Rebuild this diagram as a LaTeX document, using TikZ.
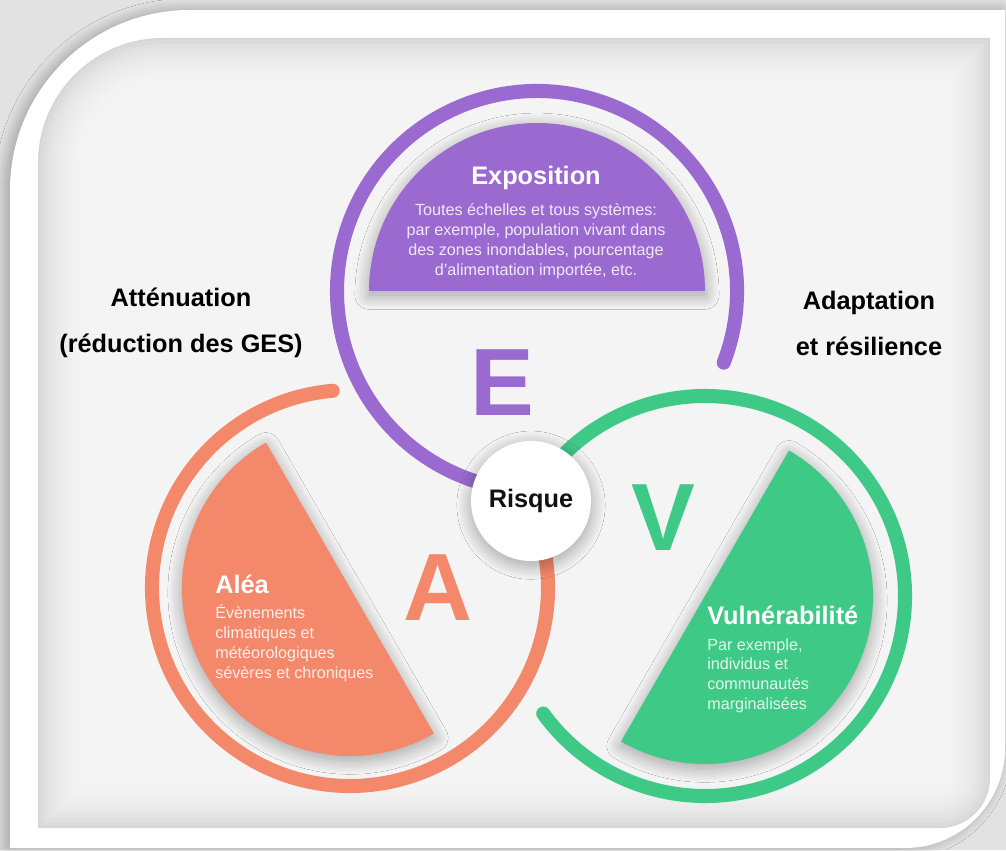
\documentclass[tikz,border=0pt]{standalone}
\usepackage{fontspec}
\setmainfont{Liberation Sans}
\usetikzlibrary{shadows.blur}
\definecolor{expo}{RGB}{154,106,208}
\definecolor{alea}{RGB}{243,137,106}
\definecolor{vuln}{RGB}{63,201,134}
\definecolor{fond}{RGB}{226,226,226}
\definecolor{panneau}{RGB}{214,214,214}

\begin{document}
\begin{tikzpicture}[x=0.025cm,y=0.025cm,
  anneau/.style={line width=10pt,line cap=round},
  titre/.style={font=\fontsize{18}{22}\selectfont\bfseries,inner sep=0pt},
  corps/.style={font=\fontsize{11.5}{14.2}\selectfont,text=white,text opacity=0.85,inner sep=0pt},
  lettre/.style={font=\fontsize{68}{68}\selectfont\bfseries},
  ombre/.style={blur shadow={shadow xshift=0pt,shadow yshift=-3pt,shadow blur radius=10pt,shadow blur steps=25,shadow opacity=35}}]
\useasboundingbox (0,0) rectangle (1006,850);
\fill[fond] (0,0) rectangle (1006,850);
\fill[white,blur shadow={shadow xshift=-3pt,shadow yshift=0pt,shadow blur radius=8pt,shadow blur steps=20,shadow opacity=30}] (10,2) -- (10,660) arc[start angle=180,end angle=90,radius=180] -- (1005,840) -- (1005,102) arc[start angle=0,end angle=-90,radius=100] -- cycle;
\fill[panneau] (38,22) -- (38,687) arc[start angle=180,end angle=90,radius=125] -- (990,812) -- (990,72) arc[start angle=0,end angle=-90,radius=50] -- cycle;
\foreach \d in {2,6,...,42} {
  \pgfmathsetmacro\ra{125-\d}
  \pgfmathsetmacro\rb{max(50-\d,4)}
  \fill[white,fill opacity=0.14] (38+\d,22+\d) -- (38+\d,812-\d-\ra) arc[start angle=180,end angle=90,radius=\ra] -- (990-\d,812-\d) -- (990-\d,22+\d+\rb) arc[start angle=0,end angle=-90,radius=\rb] -- cycle;
}

\coordinate (cE) at (537,559);
\coordinate (cA) at (350,262);
\coordinate (cV) at (705,254);

\draw[anneau,expo] (cE) ++(-21:200) arc[start angle=-21,end angle=255,radius=200];
\draw[anneau,alea] (cA) ++(95:198) arc[start angle=95,end angle=380,radius=198];
\draw[anneau,vuln] (cV) ++(216:200) arc[start angle=216,end angle=500,radius=200];

\fill[expo,ombre] (cE) ++(0:168) arc[start angle=0,end angle=180,radius=168] -- cycle;
\fill[alea,ombre] (cA) ++(120:168) arc[start angle=120,end angle=300,radius=168] -- cycle;
\fill[vuln,ombre] (cV) ++(-120:168) arc[start angle=-120,end angle=60,radius=168] -- cycle;

\node[lettre,text=expo] (lettreE) at (502,467) {E};
\node[lettre,text=alea] (lettreA) at (438,262) {A};
\node[lettre,text=vuln] (lettreV) at (663,332) {V};

\node[circle,fill=white,minimum size=3cm,ombre,font=\fontsize{18}{22}\selectfont\bfseries,text={rgb,255:red,17;green,17;blue,17}] (risque) at (531,349) {Risque};

\node[titre,text=white,anchor=base] (expoTitre) at (536,665) {Exposition};
\node[corps,align=center] (expoTexte) at (536,609) {Toutes échelles et tous systèmes:\\par exemple, population vivant dans\\des zones inondables, pourcentage\\d’alimentation importée, etc.};

\node[titre,text=white,anchor=base west] (aleaTitre) at (215,257) {Aléa};
\node[corps,align=left,anchor=north west] (aleaTexte) at (215,246) {Évènements\\climatiques et\\météorologiques\\sévères et chroniques};

\node[titre,text=white,anchor=base west] (vulnTitre) at (707,226) {Vulnérabilité};
\node[corps,align=left,anchor=north west] (vulnTexte) at (707,212) {Par exemple,\\individus et\\communautés\\marginalisées};

\node[font=\fontsize{18}{32.7}\selectfont\bfseries,align=center] (attenuation) at (181,527) {Atténuation\\(réduction des GES)};
\node[font=\fontsize{18}{32.7}\selectfont\bfseries,align=center] (adaptation) at (869,527) {Adaptation\\et résilience};
\end{tikzpicture}
\end{document}
